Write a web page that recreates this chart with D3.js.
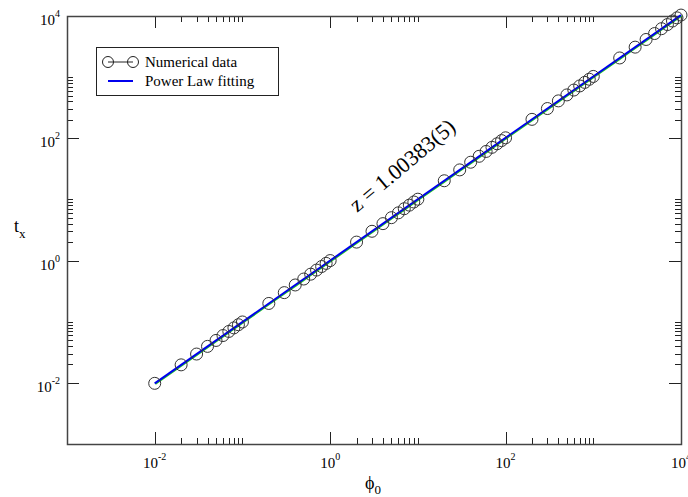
<!DOCTYPE html>
<html>
<head>
<meta charset="utf-8">
<script src="https://cdn.jsdelivr.net/npm/d3@7"></script>
<style>
  html, body { margin: 0; padding: 0; background: #fff; }
  svg { display: block; }
  text { font-family: "Liberation Serif", "Times New Roman", Times, serif; fill: #000; }
</style>
</head>
<body>
<svg id="chart" width="688" height="497" font-family="'Liberation Serif', 'Times New Roman', serif"></svg>
<script>
// phi_0 values of the simulation runs
const phi0 = [
  0.01, 0.02, 0.03, 0.04, 0.05, 0.06, 0.07, 0.08, 0.09, 0.1,
  0.2, 0.3, 0.4, 0.5, 0.6, 0.7, 0.8, 0.9, 1,
  2, 3, 4, 5, 6, 7, 8, 9, 10,
  20, 30, 40, 50, 60, 70, 80, 90, 100,
  200, 300, 400, 500, 600, 700, 800, 900, 1000,
  2000, 3000, 4000, 5000, 6000, 7000, 8000, 9000, 10000
];
// measured crossover times t_x
const tx = [
  0.00982, 0.0197, 0.0296, 0.0395, 0.0494, 0.0594, 0.0693, 0.0792, 0.0892, 0.0991,
  0.199, 0.299, 0.399, 0.499, 0.599, 0.699, 0.799, 0.9, 1.0,
  2.005, 3.013, 4.02, 5.03, 6.04, 7.05, 8.06, 9.08, 10.09,
  20.2, 30.4, 40.6, 50.8, 60.9, 71.1, 81.3, 91.6, 101.8,
  204, 306.6, 409, 512, 615, 718, 821, 924, 1027,
  2059, 3094, 4130, 5167, 6204, 7243, 8282, 9321, 10359
];
// power-law fit t_x = A * phi_0^z
const fitExponent = 1.00383;
const fitPrefactor = 1.0;
const fitRange = [0.01, 10000];

// axis ticks
const majorTicks = [0.01, 1, 100, 10000];
const labelTicks = [0.01, 1, 100, 10000];
const labelExponents = ["-2", "0", "2", "4"];
const minorDecades = [0.01, 1, 100];
const minorMultipliers = [2, 3, 4, 5, 6, 7, 8, 9, 10];

const legendLabels = ["Numerical data", "Power Law fitting"];
const annotation = "z = 1.00383(5)";

const svg = d3.select("#chart");
const plot = { left: 67, right: 681, top: 16, bottom: 444 };

const x = d3.scaleLog().domain([1e-3, 1e4]).range([plot.left, plot.right]);
const y = d3.scaleLog().domain([1e-3, 1e4]).range([plot.bottom, plot.top]);

const minorTicks = [];
minorDecades.forEach(d => minorMultipliers.forEach(m => minorTicks.push(d * m)));

const frameColor = "#444";
const majorLen = 12, minorLen = 6;

// ticks (inward, mirrored on all four sides)
const tickG = svg.append("g").attr("stroke", "#222").attr("stroke-width", 1);
function drawTicks(vals, len) {
  vals.forEach(v => {
    const px = Math.round(x(v)) + 0.5;
    const py = Math.round(y(v)) + 0.5;
    if (v < 1e4) {
      tickG.append("line").attr("x1", px).attr("x2", px).attr("y1", plot.bottom).attr("y2", plot.bottom - len);
      tickG.append("line").attr("x1", px).attr("x2", px).attr("y1", plot.top).attr("y2", plot.top + len);
      tickG.append("line").attr("y1", py).attr("y2", py).attr("x1", plot.left).attr("x2", plot.left + len);
      tickG.append("line").attr("y1", py).attr("y2", py).attr("x1", plot.right).attr("x2", plot.right - len);
    }
  });
}
drawTicks(majorTicks, majorLen);
drawTicks(minorTicks, minorLen);

// frame
svg.append("rect")
  .attr("x", plot.left + 0.5).attr("y", plot.top + 0.5)
  .attr("width", plot.right - plot.left).attr("height", plot.bottom - plot.top)
  .attr("fill", "none").attr("stroke", frameColor).attr("stroke-width", 1.5);

// tick labels
function powerLabel(g, exp) {
  const t = g.append("text").style("font-size", "15px");
  t.append("tspan").text("10");
  t.append("tspan").attr("dy", -8).style("font-size", "10px").text(exp);
  return t;
}
labelTicks.forEach((v, i) => {
  const gx = svg.append("g").attr("transform", `translate(${x(v)},468)`);
  powerLabel(gx, labelExponents[i]).attr("text-anchor", "middle").attr("x", 0).attr("y", 0);
  const gy = svg.append("g").attr("transform", `translate(60,${y(v) + 9})`);
  powerLabel(gy, labelExponents[i]).attr("text-anchor", "end").attr("x", 0).attr("y", 0);
});

// axis titles
const xt = svg.append("text").attr("x", 365).attr("y", 489).style("font-size", "18px");
xt.append("tspan").text("\u03d5");
xt.append("tspan").attr("dy", 5).style("font-size", "13px").text("0");

const yt = svg.append("text").attr("x", 14).attr("y", 232).style("font-size", "18px");
yt.append("tspan").text("t");
yt.append("tspan").attr("dy", 6).style("font-size", "13px").text("x");

// data
const pts = phi0.map((p, i) => ({ p, t: tx[i] }));
const line = d3.line().x(d => x(d.p)).y(d => y(d.t));

svg.append("path").datum(pts)
  .attr("d", line).attr("fill", "none")
  .attr("stroke", "#22cc22").attr("stroke-width", 2)
  .attr("transform", "translate(0.6,0.6)");

const fitPts = fitRange.map(p => ({ p, t: fitPrefactor * Math.pow(p, fitExponent) }));
svg.append("path").datum(fitPts)
  .attr("d", line).attr("fill", "none")
  .attr("stroke", "#0000ee").attr("stroke-width", 2);

svg.append("g").selectAll("circle").data(pts).join("circle")
  .attr("cx", d => x(d.p)).attr("cy", d => y(d.t)).attr("r", 6)
  .attr("fill", "none").attr("stroke", "#333").attr("stroke-width", 1);

// annotation along the fit
svg.append("text")
  .attr("transform", "translate(407,171) rotate(-40)")
  .attr("text-anchor", "middle")
  .style("font-size", "22px")
  .text(annotation);

// legend
const lg = svg.append("g");
lg.append("rect").attr("x", 96.5).attr("y", 47.5).attr("width", 182).attr("height", 48)
  .attr("fill", "#fff").attr("stroke", "#222").attr("stroke-width", 1);
lg.append("line").attr("x1", 108).attr("x2", 133).attr("y1", 62).attr("y2", 62)
  .attr("stroke", "#222").attr("stroke-width", 1);
[108, 133].forEach(cx => lg.append("circle").attr("cx", cx).attr("cy", 62).attr("r", 5.5)
  .attr("fill", "none").attr("stroke", "#222").attr("stroke-width", 1));
lg.append("line").attr("x1", 108).attr("x2", 133).attr("y1", 81).attr("y2", 81)
  .attr("stroke", "#0000ee").attr("stroke-width", 2);
lg.append("text").attr("x", 145).attr("y", 67).style("font-size", "15px").text(legendLabels[0]);
lg.append("text").attr("x", 145).attr("y", 86).style("font-size", "15px").text(legendLabels[1]);
</script>
</body>
</html>
